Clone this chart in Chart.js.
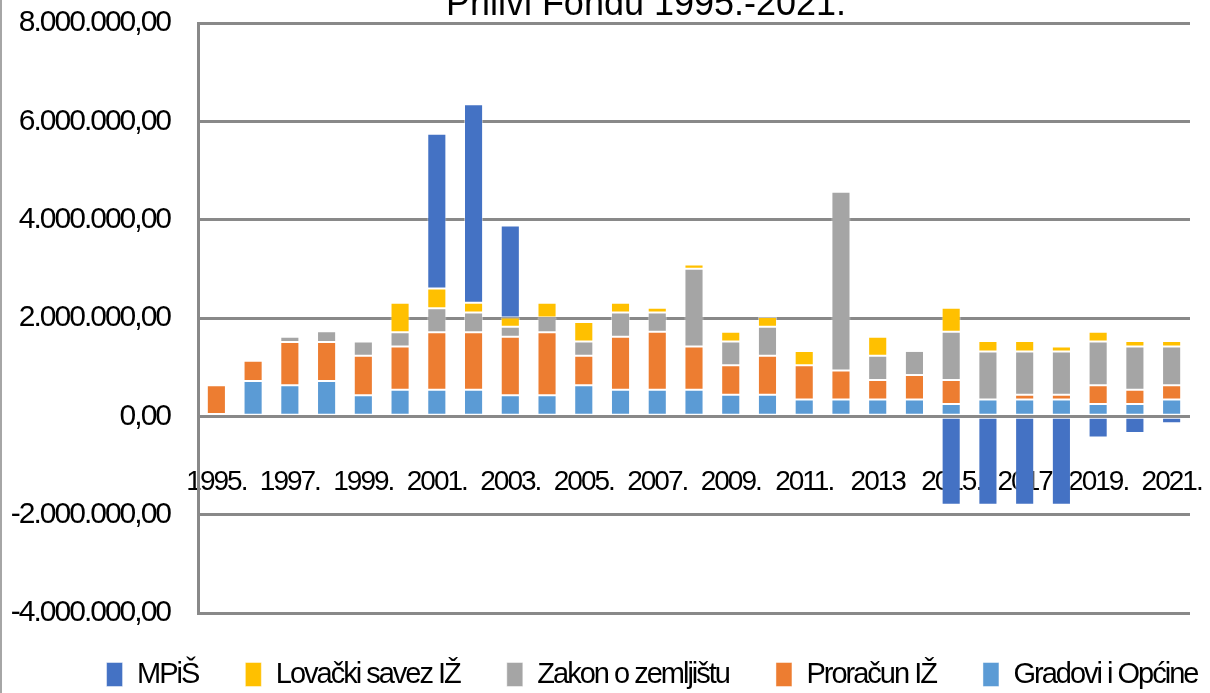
<!DOCTYPE html>
<html>
<head>
<meta charset="utf-8">
<script src="https://cdn.jsdelivr.net/npm/chart.js@4.4.1/dist/chart.umd.min.js"></script>
<style>
  html, body { margin: 0; padding: 0; background: #fff; }
  #wrap { position: relative; width: 1210px; height: 693px; overflow: hidden; }
  #frame { position: absolute; left: 0; top: 0; width: 2px; height: 693px; background: #a6a6a6; }
</style>
</head>
<body>
<div id="wrap">
  <canvas id="chart" width="1210" height="693"></canvas>
  <div id="frame"></div>
</div>
<script>
// Prilivi Fondu 1995.-2021. - stacked bars per year

const categories = [
  "1995.", "1996.", "1997.", "1998.", "1999.", "2000.", "2001.", "2002.", "2003.",
  "2004.", "2005.", "2006.", "2007.", "2008.", "2009.", "2010.", "2011.", "2012.",
  "2013", "2014.", "2015.", "2016.", "2017", "2018.", "2019.", "2020.", "2021."
];

// values (kn)
const gradoviOpcine = [
  50000, 720000, 630000, 720000, 430000, 540000, 540000, 540000, 430000,
  430000, 630000, 540000, 540000, 540000, 440000, 440000, 340000, 340000,
  340000, 340000, 250000, 340000, 340000, 340000, 250000, 250000, 340000
];
const proracunIZ = [
  580000, 410000, 880000, 790000, 800000, 880000, 1170000, 1170000, 1190000,
  1280000, 600000, 1080000, 1180000, 880000, 600000, 790000, 700000, 590000,
  400000, 500000, 490000, 0, 100000, 100000, 380000, 290000, 290000
];
const zakonZemljiste = [
  0, 0, 110000, 220000, 290000, 290000, 490000, 400000, 200000,
  300000, 290000, 490000, 390000, 1580000, 480000, 590000, 0, 3640000,
  490000, 490000, 980000, 980000, 880000, 880000, 890000, 880000, 790000
];
const lovackiSavez = [
  0, 0, 0, 0, 0, 600000, 400000, 200000, 190000,
  300000, 400000, 200000, 100000, 90000, 200000, 200000, 290000, 0,
  390000, 0, 490000, 210000, 210000, 100000, 200000, 110000, 110000
];
const mpis = [
  0, 0, 0, 0, 0, 0, 3150000, 4040000, 1870000,
  0, 0, 0, 0, 0, 0, 0, 0, 0,
  0, 0, -1800000, -1800000, -1800000, -1800000, -430000, -340000, -140000
];

const yTicks = [-4000000, -2000000, 0, 2000000, 4000000, 6000000, 8000000];

const titleText = "Prilivi Fondu 1995.-2021.";

// number like 8.000.000,00
function formatKn(v) {
  const neg = v < 0;
  const s = Math.abs(Math.round(v)).toString().replace(/\B(?=(\d{3})+(?!\d))/g, ".");
  return (neg ? "-" : "") + s + ",00";
}

const fontFam = "'Liberation Sans', Arial, sans-serif";

// the original uses a squeezed font, tighten the letters
const tightText = {
  id: "tightText",
  beforeUpdate(chart) { chart.ctx.letterSpacing = "-2px"; },
  beforeDraw(chart) { chart.ctx.letterSpacing = "-2px"; }
};

// title sits partly above the top edge, like in the original
const titlePlugin = {
  id: "cutTitle",
  afterDraw(chart) {
    const ctx = chart.ctx;
    ctx.save();
    ctx.letterSpacing = "0px";
    ctx.font = "36px " + fontFam;
    ctx.fillStyle = "#000";
    ctx.textAlign = "center";
    ctx.textBaseline = "alphabetic";
    ctx.fillText(titleText, 646, 15);
    ctx.restore();
  }
};

function barSet(label, data, color) {
  return {
    label: label,
    data: data,
    backgroundColor: color,
    borderColor: "rgba(255,255,255,0.45)",
    borderWidth: 1,
    borderSkipped: false,
    categoryPercentage: 1.0,
    barPercentage: 0.52
  };
}

new Chart(document.getElementById("chart"), {
  type: "bar",
  data: {
    labels: categories,
    datasets: [
      barSet("Gradovi i Općine", gradoviOpcine, "#5B9BD5"),
      barSet("Proračun IŽ", proracunIZ, "#ED7D31"),
      barSet("Zakon o zemljištu", zakonZemljiste, "#A5A5A5"),
      barSet("Lovački savez IŽ", lovackiSavez, "#FFC000"),
      barSet("MPiŠ", mpis, "#4472C4")
    ]
  },
  options: {
    responsive: false,
    animation: false,
    layout: { padding: { left: 0, right: -94, top: 23, bottom: -6 } },
    plugins: {
      title: { display: false },
      tooltip: { enabled: false },
      legend: {
        position: "bottom",
        reverse: true,
        labels: {
          boxWidth: 16,
          boxHeight: 24,
          padding: 47,
          color: "#000",
          font: { family: fontFam, size: 29 }
        }
      }
    },
    scales: {
      x: {
        stacked: true,
        position: { y: -1000000 },
        grid: { display: false, drawTicks: false },
        border: { display: false },
        ticks: {
          autoSkip: false,
          maxRotation: 0,
          padding: 0,
          color: "#000",
          font: { family: fontFam, size: 28 },
          callback: (v, i) => (i % 2 === 0 ? categories[i] : "")
        }
      },
      y: {
        stacked: true,
        min: -4000000,
        max: 8000000,
        afterFit: s => { s.width = 198; s.paddingTop = 0; s.paddingBottom = 0; },
        afterBuildTicks: s => { s.ticks = yTicks.map(v => ({ value: v })); },
        grid: { color: "#898989", lineWidth: 3, drawTicks: false },
        border: { display: true, color: "#898989", width: 3 },
        ticks: {
          padding: 28,
          color: "#000",
          font: { family: fontFam, size: 30 },
          callback: v => formatKn(v)
        }
      },
      y2: {
        position: "right",
        afterFit: s => { s.width = 114; s.paddingTop = 0; s.paddingBottom = 0; },
        grid: { display: false, drawTicks: false },
        border: { display: false },
        ticks: { display: false }
      }
    }
  },
  plugins: [tightText, titlePlugin]
});
</script>
</body>
</html>
